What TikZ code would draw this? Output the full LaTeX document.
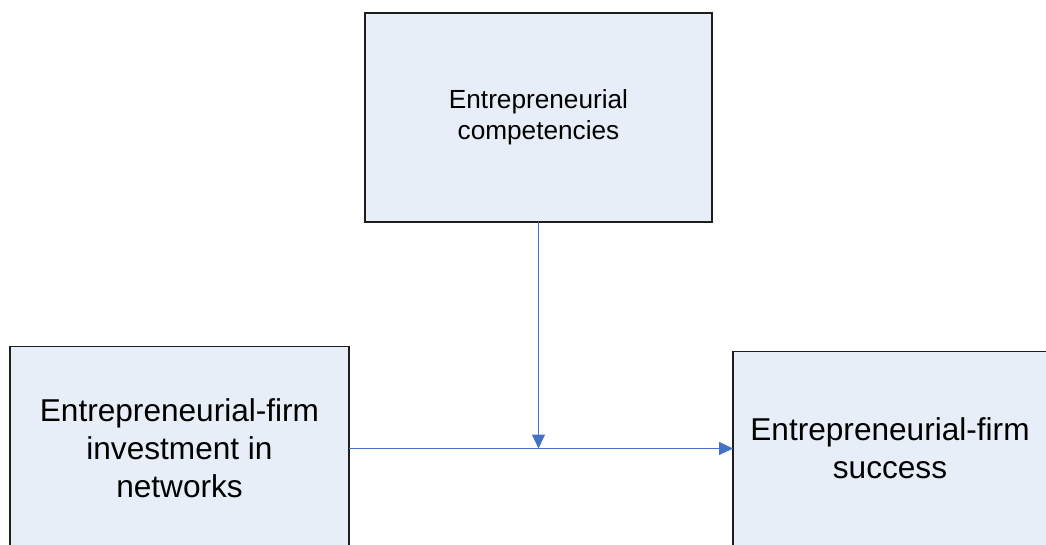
\documentclass[tikz,border=0pt]{standalone}
\usepackage{fontspec}
\setmainfont{Liberation Sans}
\usetikzlibrary{arrows.meta}
\definecolor{boxfill}{RGB}{232,238,247}
\definecolor{linkblue}{RGB}{68,114,196}
\definecolor{boxedge}{RGB}{30,30,30}
\tikzset{
  factor/.style={draw=boxedge, line width=1.2pt, fill=boxfill, inner sep=0pt, outer sep=0pt,
                 align=center, text=black},
  smalltext/.style={font=\fontsize{26.2}{31}\selectfont},
  bigtext/.style={font=\fontsize{31.6}{38}\selectfont},
  link/.style={draw=linkblue, line width=1pt,
               -{Triangle[length=14pt,width=13pt]}, color=linkblue}
}
\begin{document}
\begin{tikzpicture}[x=1pt,y=-1pt]
  \useasboundingbox (0,0) rectangle (1046,544);
  \clip (0,0) rectangle (1046,544);
  % moderating factor
  \node[factor, smalltext, minimum width=347pt, minimum height=209pt]
    (comp) at (538.5,117.5) {Entrepreneurial\\competencies};
  % independent variable
  \node[factor, bigtext, minimum width=339pt, minimum height=204pt]
    (invest) at (179.5,448.5) {Entrepreneurial-firm\\investment in\\networks};
  % outcome
  \node[factor, bigtext, minimum width=314pt, minimum height=194pt]
    (success) at (890,448.5) {Entrepreneurial-firm\\success};
  % main effect and moderation
  \coordinate (join) at (comp.south |- invest.east);
  \draw[link] (invest.east) -- (invest.east -| success.west);
  \draw[link] (comp.south) -- (join);
\end{tikzpicture}
\end{document}
